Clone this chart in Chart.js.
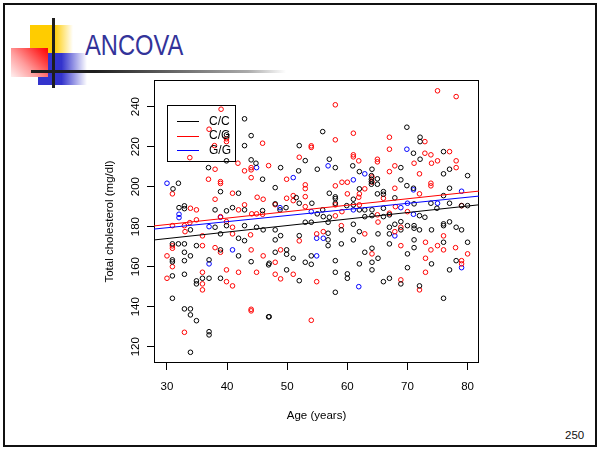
<!DOCTYPE html>
<html>
<head>
<meta charset="utf-8">
<script src="https://cdn.jsdelivr.net/npm/chart.js@4.4.1/dist/chart.umd.min.js"></script>
<style>
  html, body { margin: 0; padding: 0; background: #fff; }
  #slide { position: relative; width: 600px; height: 450px; overflow: hidden; background: #fff; }
  #slide div { position: absolute; }
  .frame { left: 3px; top: 3px; width: 590px; height: 440px; border: 2px solid #111; }
  .sq-yellow { left: 30px; top: 25px; width: 43px; height: 28px;
    background: linear-gradient(to right, #ffcc00 0%, #ffcc00 56%, rgba(255,255,255,0) 100%); }
  .sq-blue { left: 38px; top: 53px; width: 49px; height: 32px;
    background: linear-gradient(to right, #3333cc 0%, #3333cc 48%, rgba(255,255,255,0) 100%); }
  .sq-red { left: 11px; top: 48px; width: 37px; height: 29px;
    background: linear-gradient(225deg, #ff0000 0%, #ff3030 20%, #ff9c9c 60%, #fff0f0 100%); }
  .bar-v { left: 52px; top: 18px; width: 3px; height: 70px; background: #1e1e1e; }
  .bar-h { left: 31px; top: 70px; width: 255px; height: 3px;
    background: linear-gradient(to right, #1e1e1e 0%, #1e1e1e 25%, #aaaaaa 85%, rgba(255,255,255,0) 100%); }
  .title { left: 85px; top: 30px; font: 30px "Liberation Sans", Arial, sans-serif; line-height: 30px;
    color: #333399; transform: scaleX(0.79); transform-origin: left top; white-space: nowrap; }
  .pageno { left: 565px; top: 429px; font: 11.5px "Liberation Sans", Arial, sans-serif; color: #111; }
  #chart { position: absolute; left: 0; top: 0; z-index: 5; }
</style>
</head>
<body>
<div id="slide">
  <div class="frame"></div>
  <div class="sq-yellow"></div>
  <div class="sq-blue"></div>
  <div class="sq-red"></div>
  <div class="bar-h"></div>
  <div class="bar-v"></div>
  <div class="title">ANCOVA</div>
  <div class="pageno">250</div>
  <canvas id="chart" width="600" height="450"></canvas>
</div>
<script>
// groups, colours and fitted lines (intercept + slope per genotype)
const groups = ['C/C', 'C/G', 'G/G'];
const colors = ['#000000', '#ff0000', '#0000ff'];
const intercepts = [164.3, 171.4, 170.3];
const slopes = [0.325, 0.322, 0.305];

const xTicks = [30, 40, 50, 60, 70, 80];
const yTicks = [120, 140, 160, 180, 200, 220, 240];
const xRange = [27.84, 81.9];
const yRange = [111.85, 253.3];

// [age, cholesterol]
const ccData = [
  [42.9,233.9],[39.9,225.9],[44.0,225.5],[42.9,220.5],[39.9,212.9],[44.0,213.4],[44.8,211.7],[36.9,209.5],
  [48.9,209.5],[51.9,207.9],[45.9,203.7],[31.9,201.7],[31.0,198.9],[48.0,199.5],[38.9,197.5],[41.9,196.7],
  [51.5,194.5],[32.0,189.5],[32.9,190.4],[32.9,189.0],[38.0,188.4],[39.9,187.9],[40.9,189.5],[42.9,188.4],
  [45.9,188.0],[48.0,191.4],[48.8,188.4],[49.8,189.5],[52.0,220.5],
  [55.9,227.5],[69.9,229.7],[72.1,224.7],[72.1,222.5],[53.0,213.0],[71.0,216.7],[76.0,217.5],
  [57.0,213.7],[58.0,209.5],[55.0,208.7],[60.9,210.4],[62.0,207.5],[64.1,208.7],[64.0,205.5],[64.0,203.7],
  [64.0,202.5],[64.0,201.2],[65.0,203.9],[65.0,201.2],[68.9,209.5],[72.1,213.7],[77.0,208.7],[76.0,206.4],
  [80.0,205.5],[68.9,203.4],[69.9,200.5],[71.0,199.2],[77.0,199.2],[57.0,196.7],[58.0,194.9],[58.0,194.0],
  [62.0,198.9],[65.0,196.4],[66.0,197.5],[66.0,196.2],[67.9,194.4],[76.0,195.5],[77.0,191.7],[79.0,190.5],
  [80.0,190.5],[55.0,186.4],[59.9,190.5],[62.0,188.4],[62.9,188.4],[66.0,189.2],[72.0,185.5],[72.9,184.7],
  [73.9,191.7],[56.0,185.0],[62.9,185.0],[64.1,185.5],
  [74.9,189.2],[71.1,191.4],[58.0,191.7],[61.0,193.7],[61.0,190.9],[55.9,188.4],[57.0,184.7],[67.0,185.9],
  [66.0,185.0],[64.1,188.4],[54.1,191.7],[52.0,191.7],
  [33.9,178.4],[38.0,179.7],[38.9,176.4],[39.9,180.5],[41.9,174.2],[42.9,180.5],[42.9,173.0],[44.9,179.7],
  [46.0,178.4],[30.9,171.4],[31.9,171.4],[32.9,171.4],[34.9,170.5],[38.9,168.4],[41.9,165.4],[32.9,167.2],
  [33.9,165.4],[30.9,163.4],[30.9,162.4],[32.9,163.0],[37.0,163.4],[44.0,162.5],[46.9,160.9],[30.9,155.4],
  [32.9,156.2],[35.9,154.2],[37.0,154.2],[38.9,154.2],[34.9,152.9],[34.9,151.4],[30.9,144.2],[32.9,138.9],
  [33.9,138.9],[33.9,135.9],[34.9,133.0],[46.9,134.9],[37.0,127.5],[37.0,125.9],[33.9,117.2],
  [53.0,182.2],[54.0,182.2],[56.8,182.2],[59.0,178.4],[61.0,181.2],[62.0,177.5],[65.1,176.4],[48.0,178.4],
  [48.9,175.5],[48.0,173.4],[52.0,175.5],[56.8,176.7],[56.8,173.4],[56.8,170.5],[59.0,171.4],[61.0,173.4],
  [48.0,167.2],[49.9,168.4],[49.9,166.2],[51.0,164.2],[54.0,165.4],[53.0,162.2],[54.0,161.2],[58.0,163.0],
  [47.0,161.7],[49.9,158.4],[52.0,153.0],[58.0,157.2],[60.0,156.4],[60.0,154.2],[58.0,147.2],[62.9,167.2],
  [64.1,169.2],[62.0,161.4],[64.1,162.2],[64.1,158.4],[47.0,135.0],
  [67.0,179.7],[67.0,176.4],[67.9,181.2],[68.9,182.5],[68.9,178.4],[70.0,180.5],[71.1,180.5],[71.1,179.2],
  [72.0,178.4],[74.0,178.4],[76.0,181.4],[76.0,180.5],[77.0,182.4],[78.1,179.7],[79.0,178.4],[67.0,171.4],
  [71.1,173.4],[71.1,169.5],[76.0,172.2],[80.0,172.2],[70.0,166.4],[65.1,164.2],[74.0,161.4],[78.1,163.0],
  [70.0,159.5],[77.0,158.4],[66.0,152.5],[67.0,154.2],[68.9,151.4],[72.0,150.4],[76.0,144.2]
];

const cgData = [
  [39.0,238.7],[37.0,228.7],[39.9,223.9],[39.9,222.5],[37.9,220.5],[45.9,221.7],[33.8,214.5],[41.8,211.7],
  [44.0,209.5],[44.0,208.4],[38.0,208.7],[42.9,207.9],[46.9,210.5],[52.0,214.7],[44.0,204.5],[36.9,203.7],
  [38.9,202.5],[38.9,201.6],[30.9,196.4],[49.9,203.7],[38.0,193.7],[40.9,196.7],[45.0,194.7],[46.0,193.7],
  [51.0,195.5],[49.9,194.2],[33.9,189.2],[34.9,188.4],[41.9,188.4],[42.9,190.9],[44.1,186.4],[44.9,186.4],
  [45.9,186.2],[48.0,191.0],[38.9,185.0],[39.9,182.5],[34.9,183.4],[30.9,180.5],[32.9,180.5],[33.8,182.0],
  [51.0,193.0],[53.0,200.9],[53.0,199.0],[53.0,195.0],[53.0,190.0],
  [75.0,247.9],[78.1,245.0],[58.0,240.9],[61.0,226.7],[58.0,223.4],[72.9,222.5],[67.0,224.7],[54.0,220.4],
  [54.0,219.6],[67.0,218.7],[72.9,216.7],[73.9,215.9],[77.0,217.5],[61.0,215.9],[61.0,214.9],
  [65.0,213.7],[65.0,212.4],[67.0,207.5],[67.9,210.4],[71.1,211.7],[74.0,211.7],[75.0,212.9],[78.1,212.9],
  [78.1,209.5],[72.0,206.4],[73.9,201.7],[73.9,200.4],[67.9,199.2],[58.0,200.4],[59.1,202.2],[60.0,202.2],
  [60.0,196.4],[62.0,196.4],[62.9,198.9],[72.0,196.4],[79.0,190.5],[58.0,190.9],[58.0,185.4],[67.0,186.7],
  [64.1,204.8],[64.1,202.3],[61.9,212.9],[59.1,187.5],[68.0,190.0],[70.0,187.5],[65.0,185.9],[62.0,190.9],
  [66.0,194.2],[61.9,194.7],
  [33.0,177.5],[35.9,175.4],[40.9,179.7],[40.9,176.4],[43.9,175.9],[30.9,170.4],[30.9,169.2],[35.9,170.5],
  [38.0,169.5],[38.9,167.2],[30.0,165.4],[30.9,160.0],[44.0,168.4],[46.0,165.4],[39.9,158.4],[41.9,157.2],
  [44.9,157.2],[30.0,154.2],[35.9,157.2],[35.9,151.4],[35.9,148.4],[39.9,152.5],[40.9,150.4],[44.0,138.7],
  [44.0,137.9],[32.9,127.2],
  [59.0,180.5],[62.9,176.4],[65.1,182.3],[52.0,172.9],[54.9,176.4],[56.0,177.5],[48.9,168.4],[64.1,166.4],
  [48.0,162.2],[48.0,156.2],[48.9,153.9],[51.0,156.2],[54.9,152.5],[54.0,133.2],
  [67.9,177.5],[68.9,179.7],[68.9,170.5],[73.0,172.2],[75.0,170.5],[73.9,168.4],[76.0,175.4],[76.0,168.4],
  [78.0,169.5],[73.0,164.2],[79.0,163.0],[79.0,161.4],[80.0,166.4],[73.0,157.2],[68.9,153.4],[72.0,148.4]
];

const ggData = [
  [44.9,209.5],[30.0,201.7],[51.0,204.5],[48.8,189.5],[32.0,186.2],[32.0,184.5],[38.9,184.7],[37.0,180.0],
  [56.8,210.4],[62.9,206.4],[69.9,218.7],[71.0,198.4],[79.0,197.7],[61.0,188.4],[68.9,189.5],[71.0,186.2],
  [75.0,191.7],[70.0,191.7],[61.0,203.4],[54.0,187.5],[40.9,168.4],[37.0,161.4],[54.9,174.2],[56.0,174.2],
  [54.9,165.4],[61.9,150.0],[67.9,175.4],[79.0,159.5]
];

const fontFamily = '"Liberation Sans", Arial, sans-serif';

document.addEventListener('DOMContentLoaded', function() {
    const datasets = [];
    [ccData, cgData, ggData].forEach((pts, i) => {
        datasets.push({
            type: 'scatter',
            label: groups[i],
            data: pts.map(p => ({ x: p[0], y: p[1] })),
            borderColor: colors[i],
            backgroundColor: 'rgba(0,0,0,0)',
            pointRadius: 2.3,
            pointBorderWidth: 1,
            order: 2
        });
    });
    // regression lines across the full x range
    groups.forEach((g, i) => {
        datasets.push({
            type: 'line',
            label: g + ' fit',
            data: xRange.map(x => ({ x: x, y: intercepts[i] + slopes[i] * x })),
            borderColor: colors[i],
            borderWidth: 1,
            pointRadius: 0,
            fill: false,
            order: 1
        });
    });

    // box round the plot, R style
    const boxPlugin = {
        id: 'box',
        beforeDatasetsDraw(chart) {
            const a = chart.chartArea, ctx = chart.ctx;
            ctx.save();
            ctx.strokeStyle = '#000';
            ctx.lineWidth = 1;
            ctx.strokeRect(Math.round(a.left) + 0.5, Math.round(a.top) + 0.5,
                Math.round(a.right - a.left) - 1, Math.round(a.bottom - a.top) - 1);
            ctx.restore();
        }
    };

    // rotated y tick labels and the legend
    const extrasPlugin = {
        id: 'extras',
        afterDraw(chart) {
            const ctx = chart.ctx, ys = chart.scales.y;
            ctx.save();
            ctx.fillStyle = '#000';
            ctx.font = '11.5px ' + fontFamily;
            ctx.textAlign = 'center';
            ctx.textBaseline = 'middle';
            yTicks.forEach(v => {
                const y = ys.getPixelForValue(v);
                ctx.save();
                ctx.translate(136, y);
                ctx.rotate(-Math.PI / 2);
                ctx.fillText(String(v), 0, 0);
                ctx.restore();
            });

            // legend box
            ctx.strokeStyle = '#000';
            ctx.lineWidth = 1;
            ctx.strokeRect(167.5, 105.5, 68, 56);
            ctx.font = '12px ' + fontFamily;
            ctx.textAlign = 'left';
            groups.forEach((g, i) => {
                const y = 121 + i * 14.5;
                ctx.strokeStyle = colors[i];
                ctx.beginPath();
                ctx.moveTo(177, Math.round(y) + 0.5);
                ctx.lineTo(199, Math.round(y) + 0.5);
                ctx.stroke();
                ctx.fillStyle = '#000';
                ctx.fillText(g, 209, y + 0.5);
            });
            ctx.restore();
        }
    };

    const tickGrid = {
        drawOnChartArea: false,
        drawTicks: true,
        tickLength: 7,
        color: '#000',
        lineWidth: 1
    };

    new Chart(document.getElementById('chart').getContext('2d'), {
        type: 'scatter',
        data: { datasets: datasets },
        options: {
            responsive: false,
            animation: false,
            layout: { padding: { left: 95, top: 80, right: 121, bottom: 20 } },
            plugins: {
                legend: { display: false },
                tooltip: { enabled: false }
            },
            scales: {
                x: {
                    type: 'linear',
                    min: xRange[0],
                    max: xRange[1],
                    afterBuildTicks: s => { s.ticks = xTicks.map(v => ({ value: v })); },
                    afterFit: s => { s.height = 67; },
                    grid: tickGrid,
                    border: { display: false },
                    ticks: {
                        color: '#000',
                        font: { family: fontFamily, size: 11.5 },
                        padding: 10,
                        maxRotation: 0,
                        autoSkip: false
                    },
                    title: {
                        display: true,
                        text: 'Age (years)',
                        color: '#000',
                        font: { family: fontFamily, size: 11.5 },
                        padding: { top: 0, bottom: 7 }
                    }
                },
                y: {
                    type: 'linear',
                    min: yRange[0],
                    max: yRange[1],
                    afterBuildTicks: s => { s.ticks = yTicks.map(v => ({ value: v })); },
                    afterFit: s => { s.width = 59; },
                    grid: tickGrid,
                    border: { display: false },
                    ticks: { display: false },
                    title: {
                        display: true,
                        text: 'Total cholesterol (mg/dl)',
                        color: '#000',
                        font: { family: fontFamily, size: 11.5 },
                        padding: { top: 7.5, bottom: 0 }
                    }
                }
            }
        },
        plugins: [boxPlugin, extrasPlugin]
    });
});
</script>
</body>
</html>
